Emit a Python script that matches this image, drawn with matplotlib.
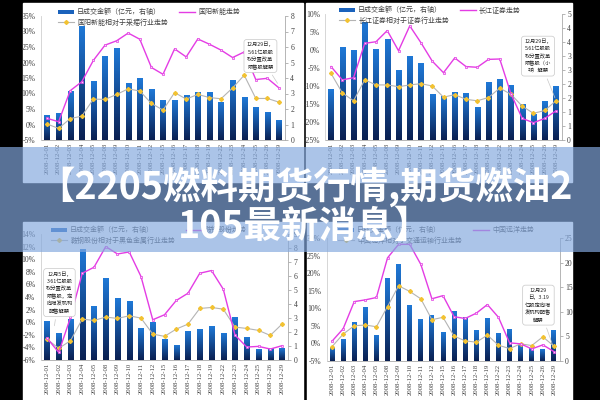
import matplotlib
matplotlib.use('Agg')
import matplotlib.pyplot as plt
import numpy as np
from matplotlib.patches import Rectangle, Patch
from matplotlib.lines import Line2D
from matplotlib.colors import LinearSegmentedColormap

dates = ['2008-12-01', '2008-12-02', '2008-12-03', '2008-12-04', '2008-12-05',
         '2008-12-08', '2008-12-09', '2008-12-10', '2008-12-11', '2008-12-12',
         '2008-12-15', '2008-12-16', '2008-12-17', '2008-12-18', '2008-12-19',
         '2008-12-22', '2008-12-23', '2008-12-24', '2008-12-25', '2008-12-26',
         '2008-12-29']

# 国阳新能 (top left)
gy_vol = [1.55, 1.72, 3.11, 7.3, 3.76, 5.36, 5.9, 3.65, 4.0, 3.28, 2.58,
          2.58, 2.9, 3.05, 3.09, 2.45, 3.86, 2.77, 2.08, 1.76, 1.29]
gy_price = [2.0, 0.9, 10.9, 13.8, 20.7, 25.6, 27.0, 29.5, 27.5, 18.4, 16.2,
            24.4, 21.8, 27.6, 25.9, 24.0, 21.6, 23.4, 14.5, 14.9, 11.8]
gy_rel = [0.15, -1.25, 1.9, 2.7, 8.2, 8.1, 9.7, 11.5, 10.8, 6.8, 4.65,
          10.3, 8.2, 9.7, 8.7, 8.3, 11.8, 15.9, 8.4, 8.4, 7.2]

# 长江证券 (top right)
cj_vol = [1.81, 3.31, 3.21, 4.21, 3.25, 3.6, 2.48, 3.0, 2.74, 1.61, 1.55,
          1.71, 1.65, 1.17, 2.04, 2.15, 1.96, 1.27, 0.92, 1.39, 1.9]
cj_price = [-4.6, -8.3, -7.7, 1.85, 2.3, 5.4, -0.2, 6.7, 2.0, -3.1, -6.3,
            -2.2, -4.6, -4.8, -2.6, -2.5, -12.2, -19.0, -20.2, -19.0, -16.9]
cj_rel = [-6.5, -11.9, -14.1, -8.3, -9.7, -9.7, -10.2, -9.7, -9.35, -10.0, -13.1,
          -12.4, -13.7, -14.1, -13.2, -10.6, -12.3, -15.6, -17.6, -16.8, -14.1]

# 鞍钢股份 (bottom left)
ag_vol = [2.72, 1.86, 2.89, 7.9, 3.84, 5.82, 4.39, 4.18, 2.22, 2.67, 1.46,
          1.07, 2.03, 2.15, 2.36, 1.89, 3.03, 1.6, 0.74, 0.79, 0.81]
ag_price = [-2.52, -4.79, 0.75, 7.77, 8.72, 12.0, 10.83, 11.15, 7.25, 0.39, 1.18,
            3.45, 4.6, 7.77, 8.2, 5.24, -2.04, -3.94, -3.84, -4.26, -3.73]
ag_rel = [-2.68, -4.15, -2.94, 0.49, 0.28, 0.81, 0.6, 1.02, 0.65, -1.88, -2.25,
          -1.09, -0.3, 2.18, 2.34, 2.07, -0.78, -0.99, -1.3, -2.1, -0.3]

# 中国远洋 (bottom right)
zy_vol = [2.74, 4.45, 7.88, 10.96, 5.27, 16.7, 19.7, 11.3, 8.36, 9.32, 5.82,
          10.07, 8.84, 6.3, 8.63, 5.68, 6.44, 3.08, 2.53, 2.33, 6.1]
zy_price = [0.64, 4.18, 11.9, 12.4, 13.07, 24.35, 28.2, 28.2, 22.5, 12.7, 13.6,
            7.6, 7.1, 8.6, 11.06, 7.43, 0.16, -0.12, -1.56, -0.41, -2.32]
zy_rel = [-0.89, 2.65, 5.04, 5.23, 4.75, 10.5, 16.4, 14.8, 12.7, 6.76, 7.43,
          2.07, 0.74, 0.35, 2.36, -0.51, -1.46, -0.12, -0.6, 1.88, -0.79]

vol_label = '日成交金额（亿元，右轴）'
title = '【2205燃料期货行情,期货燃油2\n105最新消息】'

W, H = 600, 400
serif = ['Liberation Serif', 'Noto Sans CJK SC']
cjk = ['Noto Sans CJK SC', 'DejaVu Sans']
pink = '#e43ce4'
grey = '#b4b4b4'
yellow = '#f2c232'
txt = '#404040'
bar_cmap = LinearSegmentedColormap.from_list('b', ['#0a2052', '#1f78d6'])


def box(x0, y0, x1, y1):
    return [x0 / W, 1 - y1 / H, (x1 - x0) / W, (y1 - y0) / H]


fig = plt.figure(figsize=(6, 4), dpi=100, facecolor='black')

bg = fig.add_axes([0, 0, 1, 1])
bg.set_zorder(-1)
bg.set_xlim(0, W)
bg.set_ylim(H, 0)
bg.axis('off')
for x0, y0, x1, y1 in [(23, 3, 303, 182), (306, 3, 572, 182),
                       (23, 222, 303, 400), (307, 222, 572, 400)]:
    bg.add_patch(Rectangle((x0, y0), x1 - x0, y1 - y0, color='white'))


def panel(pos, vol, price, rel, name, rel_name, plim, pticks, vlim, vticks,
          vlabels, leg_xy, note, note_xy, note_to):
    ax = fig.add_axes(box(*pos))
    ax.set_facecolor('none')
    ax2 = ax.twinx()
    x = np.arange(len(dates))
    bars = ax.bar(x, vol, width=0.45, color='none', zorder=2)
    grad = np.linspace(1, 0, 64).reshape(-1, 1)
    for b in bars:
        ax.imshow(grad, cmap=bar_cmap, vmin=0, vmax=1, aspect='auto',
                  extent=[b.get_x(), b.get_x() + b.get_width(), 0, b.get_height()],
                  zorder=2)
    ax.set_xlim(-0.5, len(dates) - 0.5)
    ax.set_ylim(*vlim)
    ax.yaxis.tick_right()
    ax.set_yticks(vticks)
    ax.set_yticklabels(vlabels)
    ax.set_xticks(x)
    ax.set_xticklabels(dates, rotation=90)
    ax.tick_params(axis='x', length=0, pad=2, labelsize=4.8, labelcolor=txt)
    ax.tick_params(axis='y', length=2, width=0.5, color='#999999', pad=2,
                   labelsize=5.5, labelcolor=txt)
    for lab in ax.get_xticklabels() + ax.get_yticklabels():
        lab.set_family(serif)
    for s in ['top', 'left']:
        ax.spines[s].set_visible(False)
    for s in ['right', 'bottom']:
        ax.spines[s].set_color('#aaaaaa')
        ax.spines[s].set_linewidth(0.6)

    ax2.yaxis.tick_left()
    ax2.plot(x, rel, color=grey, lw=0.8, marker='D', ms=2, mfc=yellow,
             mec=yellow, zorder=3)
    ax2.plot(x, price, color=pink, lw=1.0, marker='s', ms=1.8, mfc='#f6d6f6',
             mec=pink, mew=0.5, zorder=4)
    ax2.set_ylim(*plim)
    ax2.set_yticks(pticks)
    ax2.set_yticklabels(['%d%%' % t for t in pticks])
    ax2.tick_params(axis='y', length=0, pad=4, labelsize=5.5, labelcolor=txt)
    for lab in ax2.get_yticklabels():
        lab.set_family(serif)
    for s in ['top', 'right', 'bottom']:
        ax2.spines[s].set_visible(False)
    ax2.spines['left'].set_color('#d0d0d0')
    ax2.spines['left'].set_linewidth(0.6)

    handles = [Patch(facecolor='#1a62bc'),
               Line2D([], [], color=grey, lw=0.8, marker='D', ms=2,
                      mfc=yellow, mec=yellow),
               Line2D([], [], color=pink, lw=1.0)]
    labels = [vol_label, rel_name, name]
    fig.legend(handles, labels, ncol=2, loc='upper left',
               bbox_to_anchor=(leg_xy[0] / W, 1 - leg_xy[1] / H),
               frameon=False, handlelength=2.2, handleheight=0.7,
               handletextpad=0.5, columnspacing=1.6, labelspacing=0.35,
               borderpad=0, prop={'family': cjk, 'size': 5}, labelcolor=txt)

    ax2.annotate(note, xy=note_to, xytext=note_xy, ha='center', va='center',
                 fontsize=3.8, family=cjk, color='#222222', linespacing=1.5,
                 bbox=dict(boxstyle='round,pad=0.5', fc='white',
                           ec='#c8c8c8', lw=0.5),
                 arrowprops=dict(arrowstyle='-', color='#c8c8c8', lw=0.5),
                 zorder=6)


panel((41.2, 16, 284.8, 140), gy_vol, gy_price, gy_rel,
      '国阳新能走势', '国阳新能相对于采掘行业走势',
      (-5, 35), range(-5, 36, 5), (0, 8), range(0, 9),
      [str(v) for v in range(0, 9)], (55, 5),
      '12月29日，\n5.61亿股股\n权分置改革\n限售股解禁', (18.4, 22.1), (20, 12.5))

panel((325.4, 14, 561.6, 140), cj_vol, cj_price, cj_rel,
      '长江证券走势', '长江证券相对于证券行业走势',
      (-25, 10), range(-25, 11, 5), (0, 4.5), np.arange(0, 4.6, 0.5),
      ['0', '1', '1', '2', '2', '3', '3', '4', '4', '5'], (336, 3),
      '12月29日，\n5.61亿股股\n权分置改革\n限售股（小\n非）解禁', (18.4, -1.7), (20, -14))

panel((41.1, 234, 287.9, 360), ag_vol, ag_price, ag_rel,
      '鞍钢股份走势', '鞍钢股份相对于黑色金属行业走势',
      (-6, 14), range(-6, 15, 2), (0, 9), range(0, 10),
      [str(v) for v in range(0, 10)], (48, 223),
      '12月5日，\n3.61亿股股\n权分置改革\n限售股，定\n向增发机构\n配售解禁', (1.06, 4.7), (0.6, -1))

panel((326.5, 238, 559.5, 361), zy_vol, zy_price, zy_rel,
      '中国远洋走势', '中国远洋相对于交通运输行业走势',
      (-5, 30), range(-5, 31, 5), (0, 25), range(0, 26, 5),
      [str(v) for v in range(0, 26, 5)], (335, 223),
      '12月29\n日，3.19\n亿股定向增\n发机构配售\n解禁', (18.6, 10.9), (20, -1.5))

top = fig.add_axes([0, 0, 1, 1])
top.set_zorder(20)
top.set_facecolor('none')
top.set_xlim(0, W)
top.set_ylim(H, 0)
top.axis('off')
top.add_patch(Rectangle((0, 147), W, 105, color='#83a8de', alpha=0.68, lw=0))
top.text(305, 206, title, ha='center', va='center', multialignment='center',
         fontsize=27, fontweight='bold', color='white', family=cjk,
         linespacing=0.98)

fig.savefig('out.png', dpi=100, facecolor=fig.get_facecolor())
